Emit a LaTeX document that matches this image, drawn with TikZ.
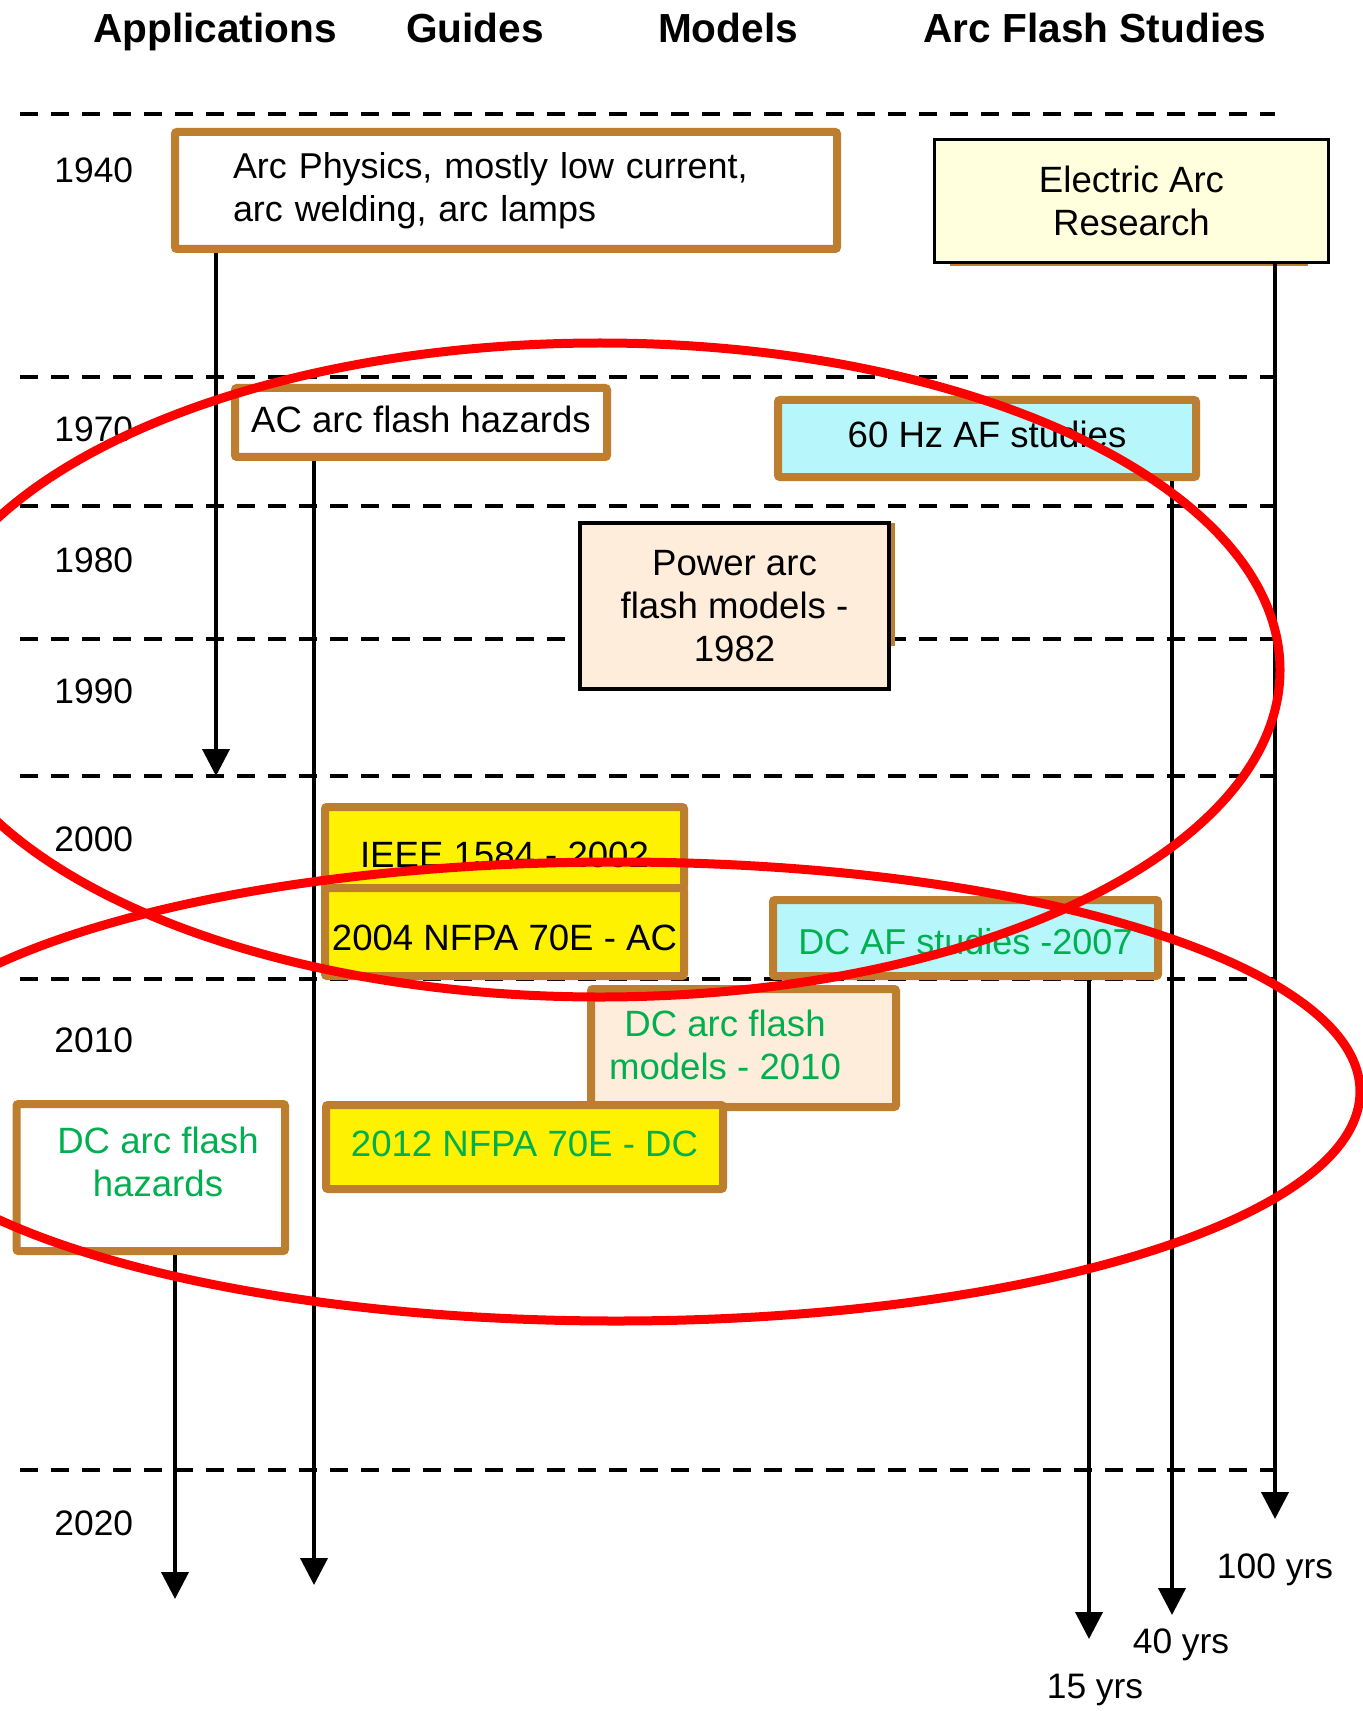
\documentclass[tikz,border=0pt]{standalone}
\usepackage{fontspec}
\setmainfont{Liberation Sans}
\usetikzlibrary{arrows.meta}
\definecolor{bbrown}{RGB}{190,126,48}
\definecolor{dgreen}{RGB}{0,176,80}
\definecolor{lcyan}{RGB}{183,247,252}
\definecolor{lpeach}{RGB}{255,237,219}
\definecolor{lyel}{RGB}{255,255,221}
\begin{document}
\begin{tikzpicture}[x=0.5pt,y=-0.5pt,
  every node/.style={font=\fontsize{18.3pt}{21.5pt}\selectfont, inner sep=0pt},
  bbox/.style={draw=bbrown, line width=4pt, rectangle, rounded corners=1pt},
  kbox/.style={draw=black, line width=1.5pt, rectangle},
  arr/.style={line width=2pt, -{Triangle[width=13.5pt,length=13.5pt]}},
  hline/.style={line width=2pt, dash pattern=on 9pt off 6.5pt},
  hdr/.style={font=\fontsize{20.3pt}{24pt}\selectfont\bfseries, anchor=base},
  yr/.style={anchor=base west, font=\fontsize{17.7pt}{21.5pt}\selectfont},
  redring/.style={draw=red, line width=4.5pt},
  gtext/.style={text=dgreen}
]
\useasboundingbox (0,0) rectangle (1362,1711);
\fill[white] (0,0) rectangle (1362,1711);

% headers
\node[hdr] (hA) at (215,43) {Applications};
\node[hdr] (hG) at (475,43) {Guides};
\node[hdr] (hM) at (728,43) {Models};
\node[hdr] (hS) at (1095,43) {Arc Flash Studies};

% dashed separators
\foreach \yy in {114,377,506,639,776,979,1470}
  \draw[hline] (20,\yy) -- (1275,\yy);

% year labels
\node[yr] (y1940) at (54,183) {1940};
\node[yr] (y1970) at (54,442) {1970};
\node[yr] (y1980) at (54,572) {1980};
\node[yr] (y1990) at (54,703) {1990};
\node[yr] (y2000) at (54,851) {2000};
\node[yr] (y2010) at (54,1052) {2010};
\node[yr] (y2020) at (54,1535) {2020};

% shadow edges
\draw[bbrown, line width=1.2pt] (950,265) -- (1308,265);
\draw[bbrown, line width=2.5pt] (892,523) -- (892,646);

% boxes
\node[bbox, minimum width=331pt, minimum height=58.5pt, text width=273pt, align=left, font=\fontsize{17.95pt}{21.5pt}\selectfont] (phys) at (506,190.5) {Arc Physics, mostly low current,\\arc welding, arc lamps};
\node[bbox, minimum width=186pt, minimum height=34.5pt, text height=10.5pt, text depth=0pt] (acaf) at (421,422.5) {AC arc flash hazards};
\node[kbox, fill=lyel, minimum width=197pt, minimum height=61.5pt, align=center] (ear) at (1131.5,201) {Electric Arc\\Research};
\node[bbox, fill=lcyan, minimum width=209pt, minimum height=38.5pt, text height=9.5pt, text depth=0pt] (hz) at (987,438.5) {60 Hz AF studies};
\node[kbox, line width=2pt, fill=lpeach, minimum width=154.5pt, minimum height=83pt, align=center] (pam) at (734.5,606) {Power arc\\flash models -\\1982};
\node[bbox, fill=yellow, minimum width=179.5pt, minimum height=40.5pt, text height=19.5pt, text depth=0pt] (ieee) at (504.5,847.5) {IEEE 1584 - 2002};
\node[bbox, fill=yellow, minimum width=179.5pt, minimum height=44pt, text height=18pt, text depth=0pt] (nfac) at (504.5,932) {2004 NFPA 70E - AC};
\node[bbox, fill=lcyan, minimum width=192.5pt, minimum height=38pt, gtext, text height=16pt, text depth=0pt, font=\fontsize{18pt}{21.5pt}\selectfont] (dcaf) at (965.5,938) {DC AF studies -2007};
\node[bbox, fill=lpeach, minimum width=152.5pt, minimum height=59pt] (dcam) at (743.5,1048) {};
\node[gtext, align=center] (dcamt) at (725,1045) {DC arc flash\\models - 2010};
\node[bbox, fill=yellow, minimum width=198.5pt, minimum height=42pt, gtext, text height=9pt, text depth=0pt] (nfdc) at (524.5,1147) {2012 NFPA 70E - DC};
\node[bbox, fill=white, minimum width=134.25pt, minimum height=73.5pt] (dchz) at (150.75,1177.5) {};
\node[gtext, align=center] (dchzt) at (158,1162) {DC arc flash\\hazards};

% arrow end points
\coordinate (ea) at (216,776);
\coordinate (eb) at (314,1585);
\coordinate (ec) at (175,1599);
\coordinate (ed) at (1275,1519);
\coordinate (ee) at (1172,1615);
\coordinate (ef) at (1089,1639);

\draw[arr] (phys.south -| ea) -- (ea);
\draw[arr] (acaf.south -| eb) -- (eb);
\draw[arr] (dchz.south -| ec) -- (ec);
\draw[arr] (ear.south -| ed) -- (ed);
\draw[arr] (hz.south -| ee) -- (ee);
\draw[arr] (dcaf.south -| ef) -- (ef);

% duration labels
\node[yr, anchor=base] (l100) at (1275,1578) {100 yrs};
\node[yr, anchor=base] (l40) at (1181,1653) {40 yrs};
\node[yr, anchor=base] (l15) at (1095,1698) {15 yrs};

% red ellipses
\draw[redring] (600,670) ellipse [x radius=340pt, y radius=163.5pt];
\draw[redring] (616,1091.5) ellipse [x radius=372pt, y radius=114.75pt];
\end{tikzpicture}
\end{document}
